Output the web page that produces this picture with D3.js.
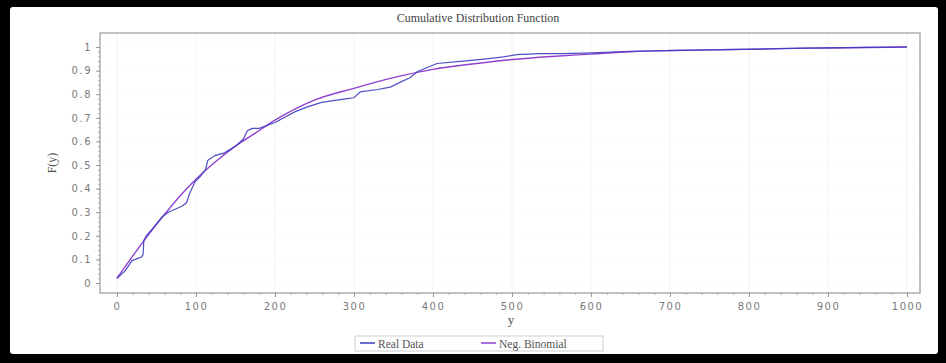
<!DOCTYPE html>
<html><head><meta charset="utf-8">
<script src="https://cdn.jsdelivr.net/npm/d3@7"></script>
<style>
html,body{margin:0;padding:0;background:#fff;}
svg{display:block;}
</style></head>
<body>
<svg id="c" width="946" height="363"></svg>
<script>
// ---- data ----
const title = "Cumulative Distribution Function";
const xLabel = "y";
const yLabel = "F(y)";
const seriesNames = ["Real Data", "Neg. Binomial"];
const xTicks = [0,100,200,300,400,500,600,700,800,900,1000];
const yTicks = [0,0.1,0.2,0.3,0.4,0.5,0.6,0.7,0.8,0.9,1];
const yTickLabels = ["0","0.1","0.2","0.3","0.4","0.5","0.6","0.7","0.8","0.9","1"];

const negBinX = [0,20,40,60,80,100,125,150,175,200,250,300,350,400,450,500,550,600,650,700,750,800,850,900,950,1000];
const negBinF = [0.02,0.115,0.205,0.29,0.37,0.44,0.515,0.58,0.635,0.69,0.775,0.825,0.87,0.905,0.928,0.947,0.96,0.97,0.98,0.985,0.988,0.991,0.994,0.996,0.998,1.0];

const realX = [0,10,19,31,33,34,37,45,57,65,82,88,92,99,105,112,115,124,135,150,160,165,171,180,200,225,240,259,289,300,308,330,346,358,371,380,405,438,468,489,506,535,565,600,650,700,750,800,870,950,1000];
const realF = [0.02,0.05,0.095,0.11,0.12,0.18,0.2,0.23,0.28,0.30,0.325,0.34,0.38,0.43,0.45,0.48,0.52,0.54,0.55,0.58,0.61,0.645,0.655,0.655,0.68,0.725,0.745,0.765,0.78,0.785,0.81,0.82,0.83,0.85,0.87,0.895,0.93,0.94,0.95,0.958,0.968,0.972,0.972,0.975,0.982,0.985,0.988,0.99,0.995,0.998,1.0];

const colors = ["#3c3cc0", "#9040d0"];

// ---- layout ----
const svg = d3.select("#c");
const W = 946, H = 363;
const plot = {left:100, right:920, top:33, bottom:293};

// black frame
svg.append("rect").attr("x",0).attr("y",0).attr("width",W).attr("height",H).attr("fill","#000");
svg.append("rect").attr("x",10).attr("y",7).attr("width",928).attr("height",347).attr("rx",3).attr("fill","#fff");

const x = d3.scaleLinear().domain([0,1000]).range([117,907]);
const y = d3.scaleLinear().domain([0,1]).range([283,47]);

// grid
const g = svg.append("g");
g.selectAll(".vg").data(xTicks).join("line")
  .attr("x1",d=>x(d)).attr("x2",d=>x(d)).attr("y1",plot.top).attr("y2",plot.bottom)
  .attr("stroke","#f2f2f2").attr("stroke-width",1);
g.selectAll(".hg").data(yTicks).join("line")
  .attr("x1",plot.left).attr("x2",plot.right).attr("y1",d=>y(d)).attr("y2",d=>y(d))
  .attr("stroke","#f6f6f6").attr("stroke-width",1).attr("stroke-dasharray","1,2");

// frame
svg.append("rect").attr("x",plot.left).attr("y",plot.top)
  .attr("width",plot.right-plot.left).attr("height",plot.bottom-plot.top)
  .attr("fill","none").attr("stroke","#9a9a9a").attr("stroke-width",1.2);

// minor ticks
const xMinor = d3.range(0,1001,20);
const yMinor = d3.range(0,1.001,0.02);
const xAxisMinor = d3.axisBottom(x).tickValues(xMinor).tickSize(2).tickFormat("");
const yAxisMinor = d3.axisLeft(y).tickValues(yMinor).tickSize(2).tickFormat("");
svg.append("g").attr("transform",`translate(0,${plot.bottom})`).call(xAxisMinor)
  .call(a=>{a.select(".domain").remove(); a.selectAll("line").attr("stroke","#aaa");});
svg.append("g").attr("transform",`translate(${plot.left},0)`).call(yAxisMinor)
  .call(a=>{a.select(".domain").remove(); a.selectAll("line").attr("stroke","#aaa");});

// major axes
const xAxis = d3.axisBottom(x).tickValues(xTicks).tickSize(4).tickPadding(6).tickFormat(d=>String(d));
const yAxis = d3.axisLeft(y).tickValues(yTicks).tickSize(4).tickPadding(4).tickFormat((d,i)=>yTickLabels[i]);
const tickFont = a=>{
  a.select(".domain").remove();
  a.selectAll("line").attr("stroke","#999");
  a.selectAll("text").attr("font-family","DejaVu Sans").attr("font-size","10px")
   .attr("letter-spacing","1.5px").attr("fill","#7a7a7a");
};
svg.append("g").attr("transform",`translate(0,${plot.bottom})`).call(xAxis).call(tickFont);
svg.append("g").attr("transform",`translate(${plot.left},0)`).call(yAxis).call(tickFont);

// lines
const line = d3.line().x(d=>x(d[0])).y(d=>y(d[1]));
const negData = negBinX.map((v,i)=>[v,negBinF[i]]);
const realData = realX.map((v,i)=>[v,realF[i]]);
svg.append("path").datum(negData).attr("d",d3.line().curve(d3.curveMonotoneX).x(d=>x(d[0])).y(d=>y(d[1]))(negData))
  .attr("fill","none").attr("stroke",colors[1]).attr("stroke-width",1.4);
svg.append("path").datum(realData).attr("d",line)
  .attr("fill","none").attr("stroke",colors[0]).attr("stroke-width",1.2).attr("stroke-opacity",0.9);

// title & labels
svg.append("text").attr("x",478).attr("y",22).attr("text-anchor","middle")
  .attr("font-family","Liberation Serif").attr("font-size","12px").attr("fill","#444").text(title);
svg.append("text").attr("x",511).attr("y",324).attr("text-anchor","middle")
  .attr("font-family","Liberation Serif").attr("font-size","13px").attr("fill","#555").text(xLabel);
svg.append("text").attr("transform","translate(56,163) rotate(-90)").attr("text-anchor","middle")
  .attr("font-family","Liberation Serif").attr("font-size","12px").attr("fill","#555").text(yLabel);

// legend
const lg = svg.append("g");
lg.append("rect").attr("x",355).attr("y",336).attr("width",248).attr("height",15)
  .attr("fill","#fff").attr("stroke","#cfcfcf").attr("stroke-width",1);
const legX = [360, 481];
seriesNames.forEach((name,i)=>{
  lg.append("line").attr("x1",legX[i]).attr("x2",legX[i]+15).attr("y1",343).attr("y2",343)
    .attr("stroke",colors[i]).attr("stroke-width",1.5);
  lg.append("text").attr("x",legX[i]+18).attr("y",347.5)
    .attr("font-family","Liberation Serif").attr("font-size","11.5px").attr("fill","#555").text(name);
});
</script>
</body></html>
